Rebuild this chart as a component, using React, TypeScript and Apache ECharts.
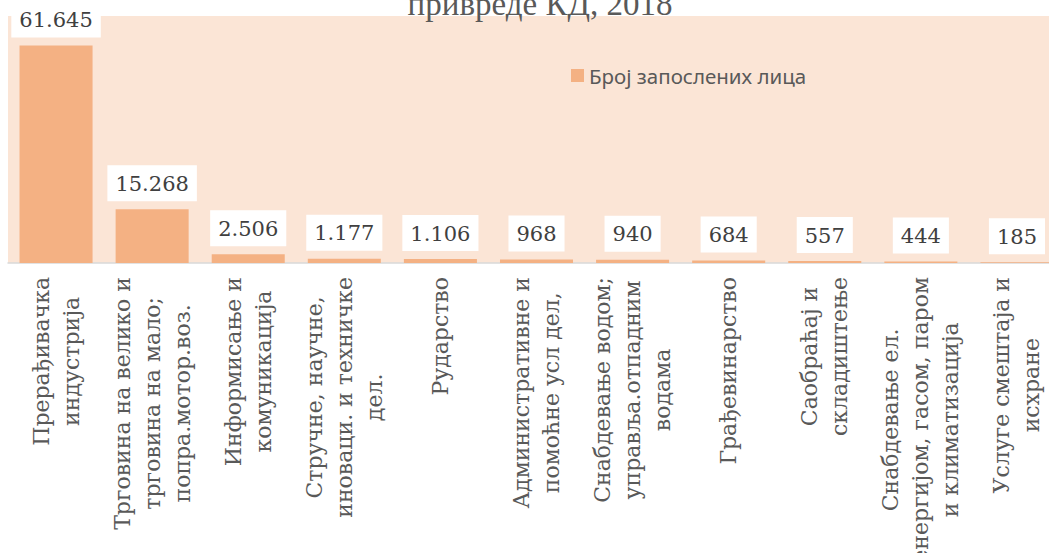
import React, { useEffect, useRef } from "react";
import * as echarts from "echarts";

const categories: string[] = [
  "Прерађивачка\nиндустрија",
  "Трговина на велико и\nтрговина на мало;\nпопра.мотор.воз.",
  "Информисање и\nкомуникација",
  "Стручне, научне,\nиноваци. и техничке\nдел.",
  "Рударство",
  "Административне и\nпомоћне усл дел,",
  "Снабдевање водом;\nуправља.отпадним\nводама",
  "Грађевинарство",
  "Саобраћај и\nскладиштење",
  "Снабдевање ел.\nенергијом, гасом, паром\nи климатизација",
  "Услуге смештаја и\nисхране",
];

const seriesName = "Број запослених лица";
const values: number[] = [61645, 15268, 2506, 1177, 1106, 968, 940, 684, 557, 444, 185];
const titleText = "привреде КД, 2018";
const yMax = 70000;

const fmt = (v: number) => String(v).replace(/\B(?=(\d{3})+(?!\d))/g, ".");

export default function App() {
  const ref = useRef<HTMLDivElement>(null);
  useEffect(() => {
    if (!ref.current) return;
    const chart = echarts.init(ref.current, null, { renderer: "svg" });
    chart.setOption({
      animation: false,
      backgroundColor: "#ffffff",
      title: {
        text: titleText,
        left: "center",
        top: -13,
        padding: 0,
        textStyle: {
          fontFamily: "Liberation Serif",
          fontSize: 33,
          fontWeight: "normal",
          color: "#595959",
          lineHeight: 33,
        },
      },
      legend: {
        data: [seriesName],
        left: 571,
        top: 65,
        padding: 0,
        icon: "rect",
        itemWidth: 13,
        itemHeight: 13,
        itemGap: 6,
        textStyle: {
          fontFamily: "Noto Sans",
          fontSize: 20.5,
          color: "#595959",
        },
      },
      grid: {
        left: 8,
        width: 1057,
        top: 16,
        height: 247,
        show: true,
        backgroundColor: "#FBE5D6",
        borderWidth: 0,
        containLabel: false,
        outerBoundsMode: "none",
      },
      xAxis: {
        type: "category",
        data: categories,
        axisLine: { show: true, lineStyle: { color: "#D9D9D9", width: 1.5 } },
        axisTick: { show: false },
        axisLabel: {
          interval: 0,
          rotate: 90,
          margin: 14,
          align: "right",
          formatter: (v: string) =>
            v
              .split("\n")
              .map((l) => `{c|${l}}`)
              .join("\n"),
          rich: {
            c: {
              align: "center",
              fontFamily: "DejaVu Serif",
              fontSize: 22,
              lineHeight: 30,
              color: "#595959",
            },
          },
        },
      },
      yAxis: {
        type: "value",
        min: 0,
        max: yMax,
        show: false,
        splitLine: { show: false },
      },
      series: [
        {
          name: seriesName,
          type: "bar",
          data: values,
          barCategoryGap: "24%",
          itemStyle: { color: "#F4B183" },
          label: {
            show: true,
            position: "top",
            distance: 8,
            formatter: (p: any) => fmt(p.value),
            backgroundColor: "#ffffff",
            padding: [8, 8, 7, 8],
            fontFamily: "DejaVu Serif",
            fontSize: 21,
            color: "#404040",
          },
        },
      ],
    });
    return () => chart.dispose();
  }, []);
  return (
    <div
      style={{
        position: "fixed",
        left: 0,
        top: 0,
        width: 1049,
        height: 553,
        overflow: "hidden",
        background: "#fff",
      }}
    >
      <div ref={ref} style={{ width: 1080, height: 553 }} />
    </div>
  );
}
